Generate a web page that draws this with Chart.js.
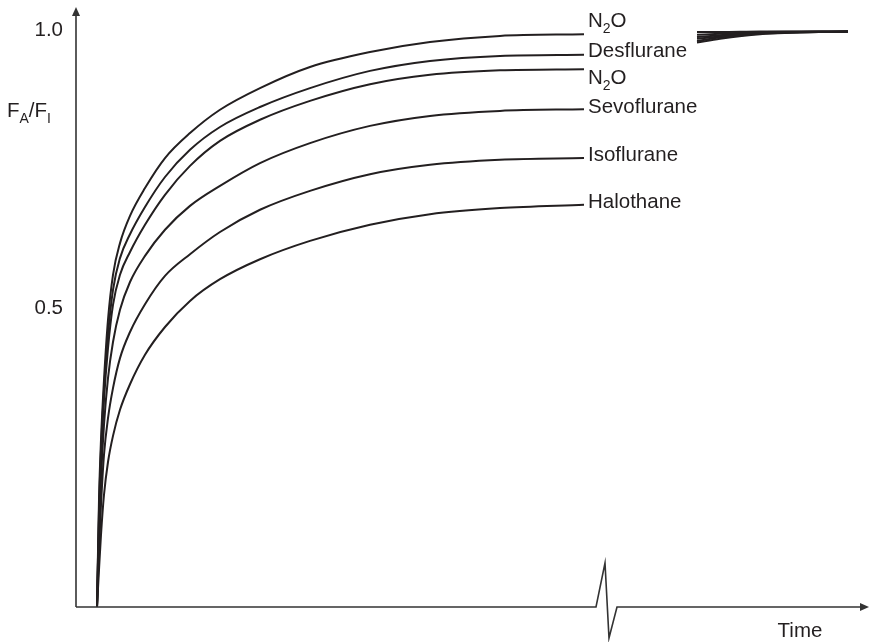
<!DOCTYPE html>
<html>
<head>
<meta charset="utf-8">
<script src="https://cdn.jsdelivr.net/npm/chart.js@4.4.0/dist/chart.umd.min.js"></script>
<style>
  html, body { margin: 0; padding: 0; background: #ffffff; }
  #wrap { width: 871px; height: 642px; position: relative; }
</style>
</head>
<body>
<div id="wrap"><canvas id="c" width="871" height="642"></canvas></div>
<script>
// ---- data (time in arbitrary units, value = FA/FI) ----
const seriesNames = ['N2O', 'Desflurane', 'N2O', 'Sevoflurane', 'Isoflurane', 'Halothane'];

// sample times shared by all curves (before the axis break)
const sampleTimes = [0, 0.25, 0.5, 0.875, 1.375, 2.0, 2.875, 4.125, 6.0, 8.5, 11.625, 15.375, 20.375, 26.625, 34.125, 41.625, 50.375, 60.875];

const n2oValues  = [-0.040, 0.153, 0.261, 0.369, 0.477, 0.558, 0.615, 0.664, 0.714, 0.768, 0.813, 0.855, 0.894, 0.932, 0.959, 0.977, 0.988, 0.991];
const desValues  = [-0.040, 0.135, 0.243, 0.351, 0.450, 0.531, 0.588, 0.631, 0.680, 0.734, 0.783, 0.824, 0.860, 0.894, 0.925, 0.943, 0.952, 0.954];
const n2o2Values = [-0.040, 0.117, 0.225, 0.333, 0.426, 0.504, 0.558, 0.599, 0.648, 0.702, 0.754, 0.799, 0.837, 0.871, 0.901, 0.918, 0.926, 0.928];
const sevoValues = [-0.040, 0.090, 0.189, 0.288, 0.372, 0.437, 0.495, 0.545, 0.592, 0.639, 0.682, 0.718, 0.759, 0.795, 0.826, 0.844, 0.853, 0.856];
const isoValues  = [-0.040, 0.063, 0.144, 0.234, 0.300, 0.354, 0.408, 0.455, 0.505, 0.556, 0.595, 0.635, 0.675, 0.709, 0.739, 0.756, 0.765, 0.768];
const haloValues = [-0.040, 0.027, 0.090, 0.162, 0.221, 0.268, 0.315, 0.361, 0.414, 0.464, 0.511, 0.550, 0.586, 0.619, 0.648, 0.667, 0.678, 0.684];

// after the axis break (late time), all curves converge
const tailTimes = [75, 77.875, 82.875, 93.875];
const tailValues = [
  [0.995, 0.995, 0.996, 0.996],
  [0.990, 0.992, 0.995, 0.996],
  [0.986, 0.989, 0.994, 0.996],
  [0.983, 0.987, 0.993, 0.996],
  [0.979, 0.985, 0.992, 0.996],
  [0.976, 0.983, 0.991, 0.996]
];

const yTickValues = [0.5, 1.0];
const yTickLabels = ['0.5', '1.0'];
const breakTime = 62.375;

// ---- build datasets ----
const valuesList = [n2oValues, desValues, n2o2Values, sevoValues, isoValues, haloValues];
const labelBaselineOffsets = [-7, 2, 15, 4, 3, 3.5];
const INK = '#231f20';
const FONT_SIZE = 20.5;

const datasets = seriesNames.map((name, i) => {
  const pts = sampleTimes.map((t, k) => ({ x: t, y: valuesList[i][k] }));
  pts.push({ x: 68, y: null });
  tailTimes.forEach((t, k) => pts.push({ x: t, y: tailValues[i][k] }));
  return {
    label: name,
    data: pts,
    borderColor: INK,
    borderWidth: 2,
    pointRadius: 0,
    fill: false,
    spanGaps: false,
    cubicInterpolationMode: 'monotone',
    clip: false
  };
});

function drawSubText(ctx, parts, x, y, size) {
  let cx = x;
  parts.forEach(([txt, sub]) => {
    ctx.font = (sub ? Math.round(size * 0.68) : size) + 'px "Liberation Sans", Arial, sans-serif';
    ctx.fillText(txt, cx, sub ? y + size * 0.3 : y);
    cx += ctx.measureText(txt).width;
  });
}

const decor = {
  id: 'decor',
  afterDatasetsDraw(chart) {
    const ctx = chart.ctx;
    const xs = chart.scales.x, ys = chart.scales.y;
    const ax = chart.chartArea.left, ay = chart.chartArea.bottom;
    const top = chart.chartArea.top, right = chart.chartArea.right;
    ctx.save();
    ctx.strokeStyle = '#333333';
    ctx.fillStyle = '#333333';
    ctx.lineWidth = 1.6;
    // y axis
    ctx.beginPath();
    ctx.moveTo(ax, ay);
    ctx.lineTo(ax, top + 6);
    ctx.stroke();
    ctx.beginPath();
    ctx.moveTo(ax, top);
    ctx.lineTo(ax - 4, top + 9);
    ctx.lineTo(ax + 4, top + 9);
    ctx.closePath();
    ctx.fill();
    // x axis with break
    const bx = xs.getPixelForValue(breakTime);
    ctx.beginPath();
    ctx.moveTo(ax, ay);
    ctx.lineTo(bx, ay);
    ctx.lineTo(bx + 9, ay - 44);
    ctx.lineTo(bx + 13, ay + 31);
    ctx.lineTo(bx + 21, ay);
    ctx.lineTo(right - 6, ay);
    ctx.stroke();
    ctx.beginPath();
    ctx.moveTo(right + 1, ay);
    ctx.lineTo(right - 8, ay - 4);
    ctx.lineTo(right - 8, ay + 4);
    ctx.closePath();
    ctx.fill();

    // text
    ctx.fillStyle = INK;
    ctx.textBaseline = 'alphabetic';
    ctx.font = FONT_SIZE + 'px "Liberation Sans", Arial, sans-serif';
    ctx.textAlign = 'right';
    yTickValues.forEach((v, i) => {
      ctx.fillText(yTickLabels[i], ax - 13, ys.getPixelForValue(v) + 6.5);
    });
    ctx.textAlign = 'left';
    drawSubText(ctx, [['F', false], ['A', true], ['/F', false], ['I', true]], 7, 117, FONT_SIZE);
    ctx.textAlign = 'center';
    ctx.font = FONT_SIZE + 'px "Liberation Sans", Arial, sans-serif';
    ctx.fillText('Time', 800, 637);
    ctx.textAlign = 'left';

    // series labels at curve ends
    const last = sampleTimes.length - 1;
    chart.data.datasets.forEach((ds, i) => {
      const px = xs.getPixelForValue(sampleTimes[last]) + 4;
      const py = ys.getPixelForValue(valuesList[i][last]) + labelBaselineOffsets[i];
      if (ds.label === 'N2O') {
        drawSubText(ctx, [['N', false], ['2', true], ['O', false]], px, py, FONT_SIZE);
      } else {
        ctx.font = FONT_SIZE + 'px "Liberation Sans", Arial, sans-serif';
        ctx.fillText(ds.label, px, py);
      }
    });
    ctx.restore();
  }
};

new Chart(document.getElementById('c'), {
  type: 'line',
  data: { datasets },
  options: {
    responsive: false,
    animation: false,
    devicePixelRatio: 1,
    layout: { padding: { left: 76, right: 3, top: 7, bottom: 35 } },
    plugins: { legend: { display: false }, tooltip: { enabled: false } },
    scales: {
      x: { type: 'linear', min: -2.625, max: 96.375, display: false },
      y: { type: 'linear', min: -0.04, max: 1.04, display: false }
    }
  },
  plugins: [decor]
});
</script>
</body>
</html>
